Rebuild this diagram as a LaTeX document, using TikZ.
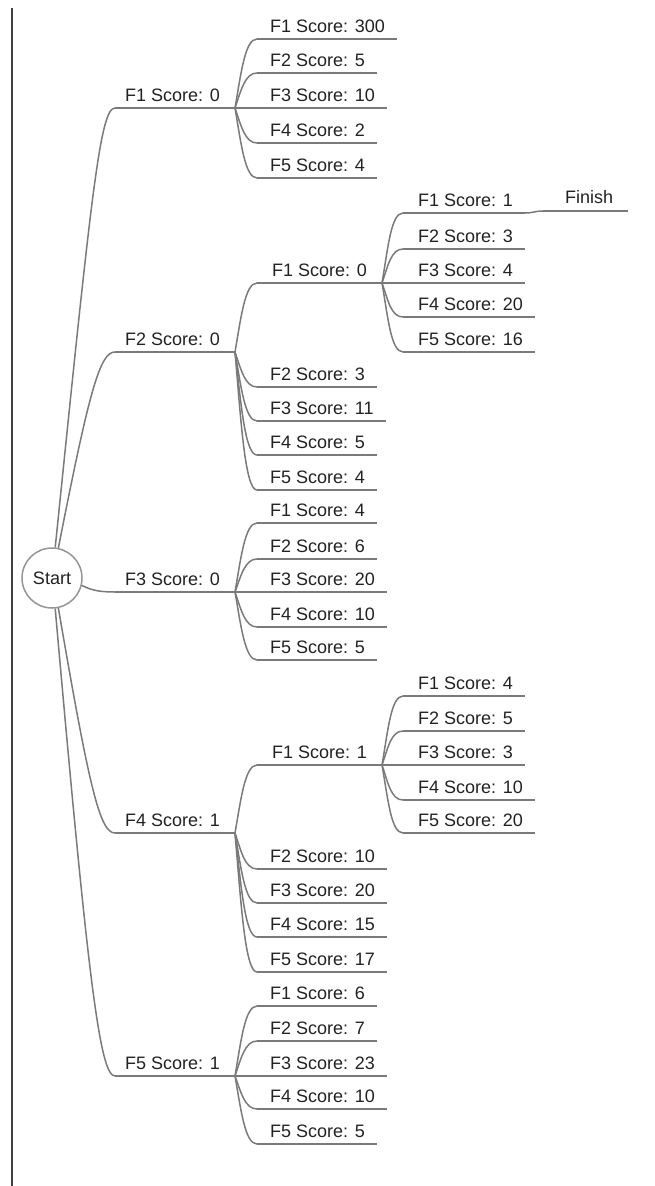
\documentclass[tikz,border=0pt]{standalone}
\usepackage{fontspec}
\setmainfont{Liberation Sans}
\usetikzlibrary{calc}
\definecolor{lncol}{HTML}{7A7A7A}
\definecolor{txtcol}{HTML}{222222}
\definecolor{bordcol}{HTML}{404040}
\tikzset{
  lbl/.style={font=\fontsize{18}{20}\selectfont, text=txtcol, inner sep=0pt, anchor=base west},
  ln/.style={draw=lncol, line width=1.5pt},
  branch/.style={to path={.. controls ($(\tikztostart)!0.5!(\tikztostart|-\tikztotarget)+(6,0)$) and ($(\tikztotarget)+(-12,0)$) .. (\tikztotarget)}},
  root/.style={circle, draw=lncol!80, line width=1.5pt, fill=white, minimum size=60pt, inner sep=0pt, font=\fontsize{18}{20}\selectfont, text=txtcol},
}
\newcommand\mmnode[5]{%
  \node[lbl] (#1) at (#3,#4-7) {#5};
  \coordinate (#1-l) at (#2,#4);
  \coordinate (#1-r) at ($(#1.base east)+(12,7)$);
  \draw[ln] (#1-l) -- (#1-r);
}
\newcommand\mmbranch[6]{%
  \node[lbl] (#1) at (#3,#4-7) {#5};
  \coordinate (#1-l) at (#2,#4);
  \coordinate (#1-r) at (#6,#4);
  \draw[ln] (#1-l) -- (#1-r);
}
\begin{document}
\begin{tikzpicture}[x=1pt,y=-1pt]
\useasboundingbox (0,0) rectangle (654,1186);
\draw[bordcol, line width=2pt] (12,8) -- (12,1186);

% level 1
\mmbranch{a1}{115}{125}{108}{F1 Score: 0}{235}
\mmbranch{a2}{115}{125}{352}{F2 Score: 0}{235}
\mmbranch{a3}{115}{125}{592}{F3 Score: 0}{235}
\mmbranch{a4}{115}{125}{833}{F4 Score: 1}{235}
\mmbranch{a5}{115}{125}{1076}{F5 Score: 1}{235}

% under a1
\mmnode{c11}{257}{270}{39}{F1 Score: 300}
\mmnode{c12}{257}{270}{73}{F2 Score: 5}
\mmnode{c13}{257}{270}{108}{F3 Score: 10}
\mmnode{c14}{257}{270}{143}{F4 Score: 2}
\mmnode{c15}{257}{270}{178}{F5 Score: 4}
% under a2
\mmbranch{c21}{257}{272}{283}{F1 Score: 0}{382}
\mmnode{c22}{257}{270}{387}{F2 Score: 3}
\mmnode{c23}{257}{270}{421}{F3 Score: 11}
\mmnode{c24}{257}{270}{455}{F4 Score: 5}
\mmnode{c25}{257}{270}{490}{F5 Score: 4}
% under a3
\mmnode{c31}{257}{270}{523}{F1 Score: 4}
\mmnode{c32}{257}{270}{559}{F2 Score: 6}
\mmnode{c33}{257}{270}{592}{F3 Score: 20}
\mmnode{c34}{257}{270}{627}{F4 Score: 10}
\mmnode{c35}{257}{270}{660}{F5 Score: 5}
% under a4
\mmbranch{c41}{257}{272}{765}{F1 Score: 1}{382}
\mmnode{c42}{257}{270}{869}{F2 Score: 10}
\mmnode{c43}{257}{270}{903}{F3 Score: 20}
\mmnode{c44}{257}{270}{937}{F4 Score: 15}
\mmnode{c45}{257}{270}{972}{F5 Score: 17}
% under a5
\mmnode{c51}{257}{270}{1006}{F1 Score: 6}
\mmnode{c52}{257}{270}{1041}{F2 Score: 7}
\mmnode{c53}{257}{270}{1076}{F3 Score: 23}
\mmnode{c54}{257}{270}{1109}{F4 Score: 10}
\mmnode{c55}{257}{270}{1144}{F5 Score: 5}

% level 3 under c21
\mmnode{d1}{403}{418}{213}{F1 Score: 1}
\mmnode{d2}{403}{418}{249}{F2 Score: 3}
\mmnode{d3}{403}{418}{283}{F3 Score: 4}
\mmnode{d4}{403}{418}{317}{F4 Score: 20}
\mmnode{d5}{403}{418}{352}{F5 Score: 16}
% level 3 under c41
\mmnode{e1}{403}{418}{696}{F1 Score: 4}
\mmnode{e2}{403}{418}{731}{F2 Score: 5}
\mmnode{e3}{403}{418}{765}{F3 Score: 3}
\mmnode{e4}{403}{418}{800}{F4 Score: 10}
\mmnode{e5}{403}{418}{833}{F5 Score: 20}

% finish
\node[lbl] (fin) at (565,203) {Finish};
\coordinate (fin-l) at (543,211);
\coordinate (fin-r) at (628,211);
\draw[ln] (fin-l) -- (fin-r);
\draw[ln] (d1-r) .. controls +(8,0) and +(-8,0) .. (fin-l);

% branches
\foreach \c in {c11,c12,c13,c14,c15} \draw[ln] (a1-r) to[branch] (\c-l);
\foreach \c in {c21,c22,c23,c24,c25} \draw[ln] (a2-r) to[branch] (\c-l);
\foreach \c in {c31,c32,c33,c34,c35} \draw[ln] (a3-r) to[branch] (\c-l);
\foreach \c in {c41,c42,c43,c44,c45} \draw[ln] (a4-r) to[branch] (\c-l);
\foreach \c in {c51,c52,c53,c54,c55} \draw[ln] (a5-r) to[branch] (\c-l);
\foreach \c in {d1,d2,d3,d4,d5} \draw[ln] (c21-r) to[branch] (\c-l);
\foreach \c in {e1,e2,e3,e4,e5} \draw[ln] (c41-r) to[branch] (\c-l);

% root
\node[root] (start) at (52,578) {Start};
\draw[ln] (start.84) .. controls +(36,-352) and +(-15,0) .. (a1-l);
\draw[ln] (start.78) .. controls +(31,-158) and +(-15,0) .. (a2-l);
\draw[ln] (start.-14) .. controls +(10,5) and +(-15,0) .. (a3-l);
\draw[ln] (start.-78) .. controls +(31,181) and +(-15,0) .. (a4-l);
\draw[ln] (start.-84) .. controls +(33,374) and +(-15,0) .. (a5-l);
\end{tikzpicture}
\end{document}
